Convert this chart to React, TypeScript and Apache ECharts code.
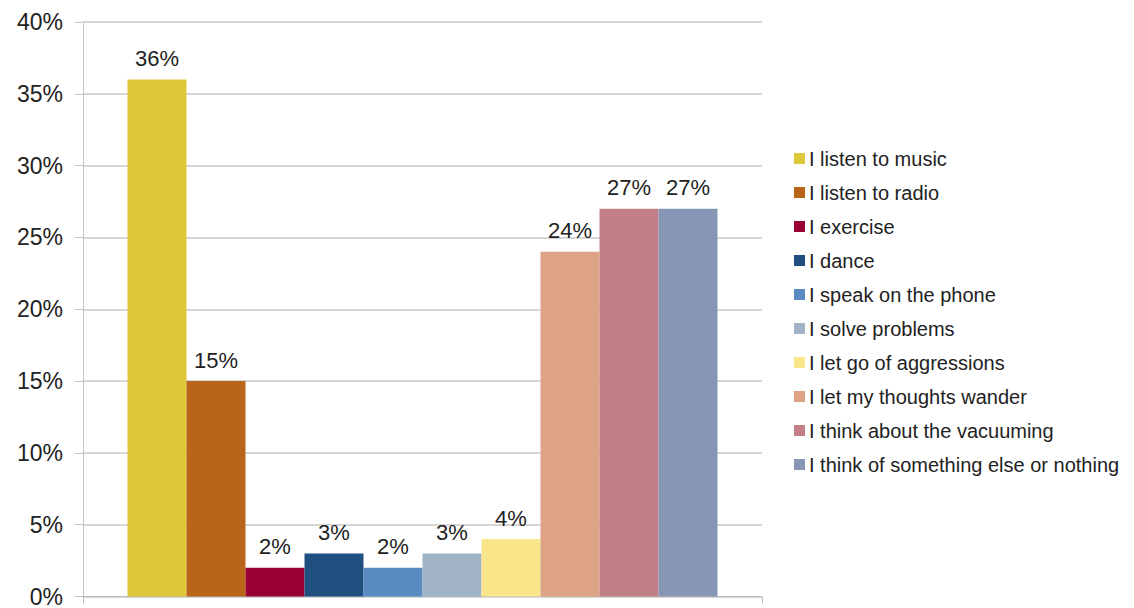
import React, { useEffect, useRef } from "react";
import * as echarts from "echarts";

const seriesNames = [
  "I listen to music",
  "I listen to radio",
  "I exercise",
  "I dance",
  "I speak on the phone",
  "I solve problems",
  "I let go of aggressions",
  "I let my thoughts wander",
  "I think about the vacuuming",
  "I think of something else or nothing",
];
const values = [36, 15, 2, 3, 2, 3, 4, 24, 27, 27];
const colors = [
  "#DEC83A",
  "#B96519",
  "#990033",
  "#1F4E80",
  "#5A8AC2",
  "#A0B3C7",
  "#F9E68A",
  "#DEA384",
  "#C37F88",
  "#8796B5",
];
const yTicks = { min: 0, max: 40, interval: 5 };

export default function App() {
  const ref = useRef<HTMLDivElement>(null);
  useEffect(() => {
    const chart = echarts.init(ref.current!, null, { renderer: "svg" });
    const font = "Liberation Sans, Arial, sans-serif";
    chart.setOption({
      animation: false,
      textStyle: { fontFamily: font },
      grid: { left: 83, right: 372, top: 22, bottom: 10, containLabel: false },
      legend: {
        orient: "vertical",
        left: 789,
        top: 142,
        icon: "rect",
        itemWidth: 11,
        itemHeight: 11,
        itemGap: 11,
        textStyle: { fontSize: 20, color: "#222", fontFamily: font, lineHeight: 23, padding: [0, 0, 0, -1] },
        data: seriesNames,
      },
      xAxis: {
        type: "category",
        data: [""],
        axisLine: { lineStyle: { color: "#bdbdbd", width: 1 } },
        axisTick: { show: true, length: 7, lineStyle: { color: "#bdbdbd" } },
        axisLabel: { show: false },
      },
      yAxis: {
        type: "value",
        min: yTicks.min,
        max: yTicks.max,
        interval: yTicks.interval,
        axisLine: { show: true, lineStyle: { color: "#c4c4c4" } },
        axisTick: { show: true, length: 8, lineStyle: { color: "#c4c4c4" } },
        splitLine: { lineStyle: { color: "#c8c8c8", width: 1.5 } },
        axisLabel: {
          formatter: (v: number) => v + "%",
          fontSize: 23,
          color: "#222",
          margin: 20,
          fontFamily: font,
        },
      },
      series: seriesNames.map((name, i) => ({
        name,
        type: "bar",
        data: [values[i]],
        barWidth: 59,
        barGap: "0%",
        itemStyle: { color: colors[i] },
        label: {
          show: true,
          position: "top",
          formatter: "{c}%",
          fontSize: 22,
          color: "#222",
          distance: 10,
          fontFamily: font,
        },
      })),
    });
    return () => chart.dispose();
  }, []);
  return <div ref={ref} style={{ width: 1134, height: 608, position: "absolute", left: 0, top: 0 }} />;
}
